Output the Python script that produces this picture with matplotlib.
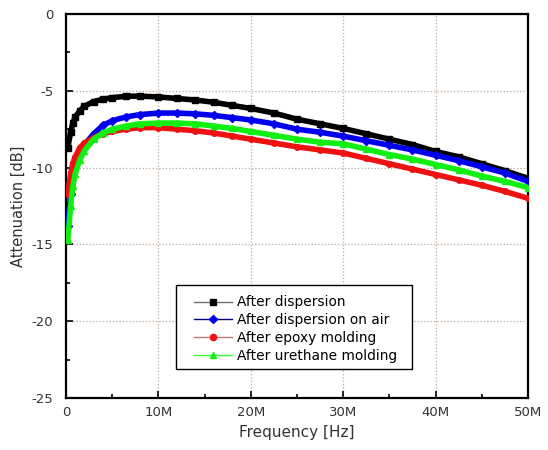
import numpy as np
import matplotlib.pyplot as plt
from matplotlib.lines import Line2D
from matplotlib.patches import Rectangle
from matplotlib.ticker import MultipleLocator, FuncFormatter

plt.rcParams['font.family'] = ['DejaVu Sans']

# frequency in MHz
freq = [0.2, 0.5, 0.75, 1, 1.5, 2, 3, 4, 5, 6.5, 8, 10, 12, 14, 16, 18, 20,
        22.5, 25, 27.5, 30, 32.5, 35, 37.5, 40, 42.5, 45, 47.5, 50]

dispersion = [-8.7, -7.7, -7.1, -6.7, -6.3, -6.0, -5.7, -5.55, -5.45, -5.35, -5.35,
              -5.4, -5.5, -5.6, -5.75, -5.95, -6.15, -6.45, -6.85, -7.15, -7.45,
              -7.8, -8.15, -8.5, -8.95, -9.3, -9.75, -10.2, -10.7]
dispersion_air = [-13.8, -11.7, -10.5, -9.8, -9.0, -8.5, -7.8, -7.25, -6.95, -6.7,
                  -6.55, -6.45, -6.45, -6.5, -6.6, -6.75, -6.9, -7.15, -7.5, -7.7,
                  -7.95, -8.25, -8.55, -8.85, -9.2, -9.55, -9.95, -10.35, -10.9]
epoxy = [-11.7, -10.4, -9.7, -9.3, -8.7, -8.4, -8.05, -7.8, -7.65, -7.5, -7.4, -7.4,
         -7.5, -7.6, -7.75, -7.95, -8.15, -8.4, -8.65, -8.85, -9.05, -9.4, -9.75,
         -10.1, -10.45, -10.8, -11.15, -11.55, -12.0]
urethane = [-14.7, -12.5, -11.2, -10.4, -9.5, -8.9, -8.15, -7.75, -7.5, -7.3, -7.15,
            -7.1, -7.1, -7.15, -7.3, -7.45, -7.65, -7.9, -8.15, -8.35, -8.45, -8.8,
            -9.15, -9.45, -9.8, -10.15, -10.55, -10.9, -11.3]

labels = ['After dispersion', 'After dispersion on air',
          'After epoxy molding', 'After urethane molding']
series = [dispersion, dispersion_air, epoxy, urethane]
colors = ['#000000', '#0000ee', '#ee1111', '#11ee11']
line_colors = ['#707070', '#000080', '#c07878', '#33ff33']
markers = ['s', 'D', 'o', '^']

fig = plt.figure(figsize=(5.48, 4.5), dpi=100)
ax = fig.add_axes([0.1204, 0.1156, 0.8431, 0.8533])

handles = []
for y, c, lc, m, lab in zip(series, colors, line_colors, markers, labels):
    ax.plot(freq, y, color=c, lw=4, marker=m, ms=4, mfc=c, mec=c, zorder=3)
    handles.append(Line2D([], [], color=lc, lw=1, marker=m, ms=4.5, mfc=c, mec=c, label=lab))

ax.set_xlim(0, 50)
ax.set_ylim(-25, 0)
ax.xaxis.set_major_locator(MultipleLocator(10))
ax.xaxis.set_minor_locator(MultipleLocator(5))
ax.yaxis.set_major_locator(MultipleLocator(5))
ax.yaxis.set_minor_locator(MultipleLocator(2.5))
ax.xaxis.set_major_formatter(FuncFormatter(lambda v, p: '0' if v == 0 else '%dM' % v))
ax.yaxis.set_major_formatter(FuncFormatter(lambda v, p: '%d' % v))
ax.tick_params(which='both', direction='in', width=1.2, labelsize=9.5, colors='black',
               labelcolor='#333333')
ax.tick_params(axis='y', pad=9)
ax.tick_params(axis='x', pad=6)
ax.tick_params(which='major', length=5)
ax.tick_params(which='minor', length=3)
for s in ax.spines.values():
    s.set_linewidth(1.6)
ax.grid(True, which='major', ls=':', color='#c0a898', lw=0.9)

ax.set_xlabel('Frequency [Hz]', fontsize=11, color='#333333')
ax.set_ylabel('Attenuation [dB]', fontsize=10.5, color='#333333')

# legend box drawn separately so its padding matches the original
ax.add_patch(Rectangle((0.2381, 0.0755), 0.5108, 0.2188, transform=ax.transAxes,
                       facecolor='white', edgecolor='black', lw=1.0, zorder=4))
leg = ax.legend(handles=handles, loc='center left', bbox_to_anchor=(0.277, 0.1797),
                fontsize=9.9, frameon=False, handlelength=2.8,
                borderpad=0, labelspacing=0.27, handletextpad=0.3, borderaxespad=0)
leg.set_zorder(5)

fig.savefig('out.png', dpi=100)
